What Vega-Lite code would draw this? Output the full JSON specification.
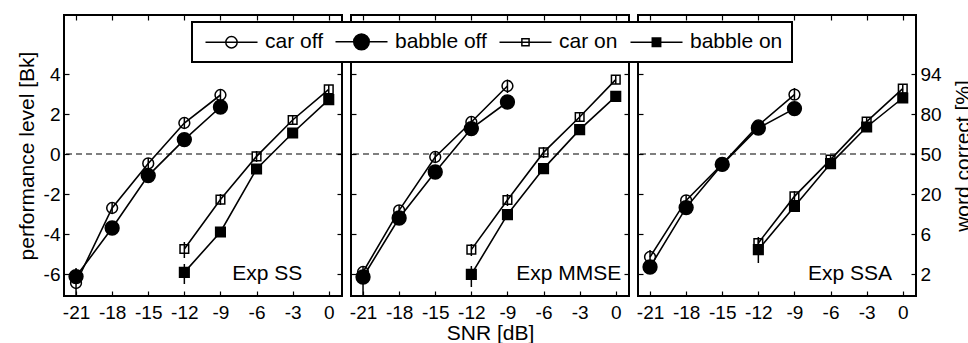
{
  "$schema": "https://vega.github.io/schema/vega-lite/v6.json",
  "background": "white",
  "padding": {"left": 15, "top": 13, "right": 0, "bottom": 0},
  "datasets": {
    "pts": [
      {"panel": "SS", "series": "car off", "snr": -21, "val": -6.45, "lo": -7.05, "hi": -5.7},
      {"panel": "SS", "series": "car off", "snr": -18, "val": -2.7, "lo": -3.0, "hi": -2.4},
      {"panel": "SS", "series": "car off", "snr": -15, "val": -0.47, "lo": -0.75, "hi": -0.2},
      {"panel": "SS", "series": "car off", "snr": -12, "val": 1.55, "lo": 1.3, "hi": 1.8},
      {"panel": "SS", "series": "car off", "snr": -9, "val": 2.95, "lo": 2.7, "hi": 3.2},
      {"panel": "SS", "series": "babble off", "snr": -21, "val": -6.13, "lo": -6.4, "hi": -5.85},
      {"panel": "SS", "series": "babble off", "snr": -18, "val": -3.7, "lo": -3.95, "hi": -3.45},
      {"panel": "SS", "series": "babble off", "snr": -15, "val": -1.08, "lo": -1.3, "hi": -0.85},
      {"panel": "SS", "series": "babble off", "snr": -12, "val": 0.72, "lo": 0.5, "hi": 0.95},
      {"panel": "SS", "series": "babble off", "snr": -9, "val": 2.35, "lo": 2.1, "hi": 2.6},
      {"panel": "SS", "series": "car on", "snr": -12, "val": -4.75, "lo": -5.2, "hi": -4.4},
      {"panel": "SS", "series": "car on", "snr": -9, "val": -2.28, "lo": -2.55, "hi": -2.0},
      {"panel": "SS", "series": "car on", "snr": -6, "val": -0.12, "lo": -0.4, "hi": 0.15},
      {"panel": "SS", "series": "car on", "snr": -3, "val": 1.7, "lo": 1.45, "hi": 1.95},
      {"panel": "SS", "series": "car on", "snr": 0, "val": 3.23, "lo": 3.0, "hi": 3.45},
      {"panel": "SS", "series": "babble on", "snr": -12, "val": -5.92, "lo": -6.5, "hi": -5.5},
      {"panel": "SS", "series": "babble on", "snr": -9, "val": -3.9, "lo": -4.15, "hi": -3.65},
      {"panel": "SS", "series": "babble on", "snr": -6, "val": -0.75, "lo": -1.0, "hi": -0.5},
      {"panel": "SS", "series": "babble on", "snr": -3, "val": 1.05, "lo": 0.8, "hi": 1.3},
      {"panel": "SS", "series": "babble on", "snr": 0, "val": 2.72, "lo": 2.5, "hi": 2.95},

      {"panel": "MMSE", "series": "car off", "snr": -21, "val": -5.9, "lo": -6.2, "hi": -5.65},
      {"panel": "MMSE", "series": "car off", "snr": -18, "val": -2.82, "lo": -3.1, "hi": -2.55},
      {"panel": "MMSE", "series": "car off", "snr": -15, "val": -0.15, "lo": -0.4, "hi": 0.1},
      {"panel": "MMSE", "series": "car off", "snr": -12, "val": 1.6, "lo": 1.35, "hi": 1.85},
      {"panel": "MMSE", "series": "car off", "snr": -9, "val": 3.4, "lo": 3.05, "hi": 3.72},
      {"panel": "MMSE", "series": "babble off", "snr": -21, "val": -6.15, "lo": -7.1, "hi": -5.8},
      {"panel": "MMSE", "series": "babble off", "snr": -18, "val": -3.2, "lo": -3.45, "hi": -2.95},
      {"panel": "MMSE", "series": "babble off", "snr": -15, "val": -0.9, "lo": -1.15, "hi": -0.65},
      {"panel": "MMSE", "series": "babble off", "snr": -12, "val": 1.27, "lo": 1.05, "hi": 1.5},
      {"panel": "MMSE", "series": "babble off", "snr": -9, "val": 2.6, "lo": 2.35, "hi": 2.85},
      {"panel": "MMSE", "series": "car on", "snr": -12, "val": -4.78, "lo": -5.1, "hi": -4.5},
      {"panel": "MMSE", "series": "car on", "snr": -9, "val": -2.3, "lo": -2.6, "hi": -2.0},
      {"panel": "MMSE", "series": "car on", "snr": -6, "val": 0.08, "lo": -0.2, "hi": 0.35},
      {"panel": "MMSE", "series": "car on", "snr": -3, "val": 1.85, "lo": 1.6, "hi": 2.1},
      {"panel": "MMSE", "series": "car on", "snr": 0, "val": 3.72, "lo": 3.5, "hi": 3.95},
      {"panel": "MMSE", "series": "babble on", "snr": -12, "val": -6.02, "lo": -6.65, "hi": -5.6},
      {"panel": "MMSE", "series": "babble on", "snr": -9, "val": -3.03, "lo": -3.3, "hi": -2.8},
      {"panel": "MMSE", "series": "babble on", "snr": -6, "val": -0.73, "lo": -1.0, "hi": -0.5},
      {"panel": "MMSE", "series": "babble on", "snr": -3, "val": 1.22, "lo": 1.0, "hi": 1.45},
      {"panel": "MMSE", "series": "babble on", "snr": 0, "val": 2.88, "lo": 2.65, "hi": 3.1},

      {"panel": "SSA", "series": "car off", "snr": -21, "val": -5.15, "lo": -5.6, "hi": -4.8},
      {"panel": "SSA", "series": "car off", "snr": -18, "val": -2.32, "lo": -2.6, "hi": -2.05},
      {"panel": "SSA", "series": "car off", "snr": -15, "val": -0.5, "lo": -0.75, "hi": -0.25},
      {"panel": "SSA", "series": "car off", "snr": -12, "val": 1.43, "lo": 1.2, "hi": 1.65},
      {"panel": "SSA", "series": "car off", "snr": -9, "val": 2.97, "lo": 2.7, "hi": 3.3},
      {"panel": "SSA", "series": "babble off", "snr": -21, "val": -5.65, "lo": -5.9, "hi": -5.4},
      {"panel": "SSA", "series": "babble off", "snr": -18, "val": -2.68, "lo": -2.95, "hi": -2.4},
      {"panel": "SSA", "series": "babble off", "snr": -15, "val": -0.52, "lo": -0.75, "hi": -0.3},
      {"panel": "SSA", "series": "babble off", "snr": -12, "val": 1.3, "lo": 1.05, "hi": 1.55},
      {"panel": "SSA", "series": "babble off", "snr": -9, "val": 2.27, "lo": 2.05, "hi": 2.5},
      {"panel": "SSA", "series": "car on", "snr": -12, "val": -4.45, "lo": -4.75, "hi": -4.15},
      {"panel": "SSA", "series": "car on", "snr": -9, "val": -2.12, "lo": -2.4, "hi": -1.85},
      {"panel": "SSA", "series": "car on", "snr": -6, "val": -0.28, "lo": -0.5, "hi": -0.05},
      {"panel": "SSA", "series": "car on", "snr": -3, "val": 1.62, "lo": 1.4, "hi": 1.85},
      {"panel": "SSA", "series": "car on", "snr": 0, "val": 3.27, "lo": 3.0, "hi": 3.5},
      {"panel": "SSA", "series": "babble on", "snr": -12, "val": -4.78, "lo": -5.45, "hi": -4.2},
      {"panel": "SSA", "series": "babble on", "snr": -9, "val": -2.62, "lo": -2.85, "hi": -2.4},
      {"panel": "SSA", "series": "babble on", "snr": -6, "val": -0.48, "lo": -0.7, "hi": -0.25},
      {"panel": "SSA", "series": "babble on", "snr": -3, "val": 1.35, "lo": 1.1, "hi": 1.6},
      {"panel": "SSA", "series": "babble on", "snr": 0, "val": 2.8, "lo": 2.55, "hi": 3.05}
    ],
    "labels": [
      {"panel": "SS", "text": "Exp SS", "x": -2.2, "y": -6},
      {"panel": "MMSE", "text": "Exp MMSE", "x": 0.45, "y": -6},
      {"panel": "SSA", "text": "Exp SSA", "x": -0.9, "y": -6}
    ],
    "ref": [{"ref": 0}]
  },
  "config": {
    "font": "Liberation Sans",
    "view": {"stroke": "black", "strokeWidth": 2},
    "legend": {"strokeWidth": 2},
    "axis": {
      "labelFont": "Liberation Sans",
      "labelFontSize": 19,
      "labelColor": "black",
      "labelExpr": "datum.value + ''",
      "titleFont": "Liberation Sans",
      "titleFontSize": 21,
      "titleFontWeight": "normal",
      "titleColor": "black",
      "tickColor": "black",
      "tickSize": -5,
      "tickWidth": 1.2,
      "domain": false,
      "grid": false
    }
  },
  "bounds": "flush",
  "spacing": 9,
  "resolve": {"scale": {"x": "independent", "y": "independent"}},
  "hconcat": [
    {
      "width": 278, "height": 281,
      "layer": [
        {
          "data": {"name": "ref"},
          "mark": {"type": "rule", "strokeDash": [6, 4], "color": "black", "strokeWidth": 1.2},
          "encoding": {"y": {"field": "ref", "type": "quantitative", "scale": {"domain": [-7.1, 6.95], "nice": false, "zero": false}, "axis": null}}
        },
        {
          "data": {"name": "pts"},
          "transform": [{"filter": "datum.panel == 'SS'"}],
          "mark": {"type": "line", "color": "black", "strokeWidth": 1.6},
          "encoding": {
            "x": {"field": "snr", "type": "quantitative", "scale": {"domain": [-22, 1.1], "nice": false, "zero": false}, "axis": {"orient": "bottom", "values": [-21, -18, -15, -12, -9, -6, -3, 0], "title": null, "labelPadding": 12}},
            "y": {"field": "val", "type": "quantitative", "scale": {"domain": [-7.1, 6.95], "nice": false, "zero": false}, "axis": {"orient": "left", "values": [-6, -4, -2, 0, 2, 4], "title": "performance level [Bk]", "labelPadding": 9, "titlePadding": 6}},
            "detail": {"field": "series"}
          }
        },
        {
          "data": {"name": "pts"},
          "transform": [{"filter": "datum.panel == 'SS'"}],
          "mark": {"type": "rule", "color": "black", "strokeWidth": 1.5},
          "encoding": {
            "x": {"field": "snr", "type": "quantitative", "axis": {"orient": "top", "values": [-21, -18, -15, -12, -9, -6, -3, 0], "labels": false, "title": null}},
            "y": {"field": "lo", "type": "quantitative", "axis": {"orient": "right", "values": [-6, -4, -2, 0, 2, 4], "labels": false, "title": null}},
            "y2": {"field": "hi"}
          }
        },
        {
          "data": {"name": "pts"},
          "transform": [{"filter": "datum.panel == 'SS'"}],
          "mark": {"type": "point", "filled": false, "stroke": "black", "strokeWidth": 1.5, "size": 144, "opacity": 1},
          "encoding": {
            "x": {"field": "snr", "type": "quantitative", "axis": null},
            "y": {"field": "val", "type": "quantitative", "axis": null},
            "shape": {"condition": [
                {"test": "datum.series == 'car off'", "value": "M-0.9,0A0.9,0.9 0 1,0 0.9,0A0.9,0.9 0 1,0 -0.9,0Z"},
                {"test": "datum.series == 'babble off'", "value": "M-1.15,0A1.15,1.15 0 1,0 1.15,0A1.15,1.15 0 1,0 -1.15,0Z"},
                {"test": "datum.series == 'car on'", "value": "M-0.72,-0.72H0.72V0.72H-0.72Z"}],
              "value": "M-0.8,-0.8H0.8V0.8H-0.8Z"},
            "fill": {"condition": {"test": "datum.series == 'babble off' || datum.series == 'babble on'", "value": "black"}, "value": "transparent"}
          }
        },
        {
          "data": {"name": "pts"},
          "transform": [{"filter": "datum.panel == 'SS'"}],
          "mark": {"type": "point", "filled": false, "stroke": "black", "strokeWidth": 1.5, "size": 144, "opacity": 0},
          "encoding": {
            "x": {"field": "snr", "type": "quantitative", "axis": null},
            "y": {"field": "val", "type": "quantitative", "axis": null},
            "shape": {"field": "series", "type": "nominal",
              "scale": {"domain": ["car off", "babble off", "car on", "babble on"],
                "range": [
                  "M-1,0H7.67M2.38,0A0.95,0.95 0 1,0 4.28,0A0.95,0.95 0 1,0 2.38,0Z",
                  "M-1,0H7.67M2.03,0A1.3,1.3 0 1,0 4.63,0A1.3,1.3 0 1,0 2.03,0ZM2.23,0A1.1,1.1 0 1,0 4.43,0A1.1,1.1 0 1,0 2.23,0ZM2.43,0A0.9,0.9 0 1,0 4.23,0A0.9,0.9 0 1,0 2.43,0ZM2.63,0A0.7,0.7 0 1,0 4.03,0A0.7,0.7 0 1,0 2.63,0ZM2.83,0A0.5,0.5 0 1,0 3.83,0A0.5,0.5 0 1,0 2.83,0ZM3.03,0A0.3,0.3 0 1,0 3.63,0A0.3,0.3 0 1,0 3.03,0ZM3.21,0A0.12,0.12 0 1,0 3.45,0A0.12,0.12 0 1,0 3.21,0Z",
                  "M-1,0H7.67M2.73,-0.6H3.93V0.6H2.73Z",
                  "M-1,0H7.67M2.63,-0.7H4.03V0.7H2.63ZM2.83,-0.5H3.83V0.5H2.83ZM3.03,-0.3H3.63V0.3H3.03ZM3.23,-0.1H3.43V0.1H3.23Z"
                ]},
              "legend": {
                "orient": "none", "legendX": 128, "legendY": 7, "direction": "horizontal", "columns": 4,
                "title": null, "labelFont": "Liberation Sans", "labelFontSize": 21, "labelColor": "black",
                "symbolSize": 144, "symbolStrokeWidth": 1.5, "symbolOpacity": 1, "symbolFillColor": "transparent",
                "labelOffset": 43, "columnPadding": 8, "padding": 9,
                "strokeColor": "black", "fillColor": "white"
              }
            }
          }
        },
        {
          "data": {"name": "labels"},
          "transform": [{"filter": "datum.panel == 'SS'"}],
          "mark": {"type": "text", "align": "right", "baseline": "middle", "fontSize": 21, "font": "Liberation Sans", "color": "black"},
          "encoding": {
            "x": {"field": "x", "type": "quantitative", "axis": null},
            "y": {"field": "y", "type": "quantitative", "axis": null},
            "text": {"field": "text"}
          }
        }
      ],
      "resolve": {"axis": {"x": "independent", "y": "independent"}}
    },
    {
      "width": 278, "height": 281,
      "layer": [
        {
          "data": {"name": "ref"},
          "mark": {"type": "rule", "strokeDash": [6, 4], "color": "black", "strokeWidth": 1.2},
          "encoding": {"y": {"field": "ref", "type": "quantitative", "scale": {"domain": [-7.1, 6.95], "nice": false, "zero": false}, "axis": null}}
        },
        {
          "data": {"name": "pts"},
          "transform": [{"filter": "datum.panel == 'MMSE'"}],
          "mark": {"type": "line", "color": "black", "strokeWidth": 1.6},
          "encoding": {
            "x": {"field": "snr", "type": "quantitative", "scale": {"domain": [-22, 1.1], "nice": false, "zero": false}, "axis": {"orient": "bottom", "values": [-21, -18, -15, -12, -9, -6, -3, 0], "title": "SNR [dB]", "labelPadding": 12, "titlePadding": 0}},
            "y": {"field": "val", "type": "quantitative", "scale": {"domain": [-7.1, 6.95], "nice": false, "zero": false}, "axis": {"orient": "left", "values": [-6, -4, -2, 0, 2, 4], "labels": false, "title": null}},
            "detail": {"field": "series"}
          }
        },
        {
          "data": {"name": "pts"},
          "transform": [{"filter": "datum.panel == 'MMSE'"}],
          "mark": {"type": "rule", "color": "black", "strokeWidth": 1.5},
          "encoding": {
            "x": {"field": "snr", "type": "quantitative", "axis": {"orient": "top", "values": [-21, -18, -15, -12, -9, -6, -3, 0], "labels": false, "title": null}},
            "y": {"field": "lo", "type": "quantitative", "axis": {"orient": "right", "values": [-6, -4, -2, 0, 2, 4], "labels": false, "title": null}},
            "y2": {"field": "hi"}
          }
        },
        {
          "data": {"name": "pts"},
          "transform": [{"filter": "datum.panel == 'MMSE'"}],
          "mark": {"type": "point", "filled": false, "stroke": "black", "strokeWidth": 1.5, "size": 144, "opacity": 1},
          "encoding": {
            "x": {"field": "snr", "type": "quantitative", "axis": null},
            "y": {"field": "val", "type": "quantitative", "axis": null},
            "shape": {"condition": [
                {"test": "datum.series == 'car off'", "value": "M-0.9,0A0.9,0.9 0 1,0 0.9,0A0.9,0.9 0 1,0 -0.9,0Z"},
                {"test": "datum.series == 'babble off'", "value": "M-1.15,0A1.15,1.15 0 1,0 1.15,0A1.15,1.15 0 1,0 -1.15,0Z"},
                {"test": "datum.series == 'car on'", "value": "M-0.72,-0.72H0.72V0.72H-0.72Z"}],
              "value": "M-0.8,-0.8H0.8V0.8H-0.8Z"},
            "fill": {"condition": {"test": "datum.series == 'babble off' || datum.series == 'babble on'", "value": "black"}, "value": "transparent"}
          }
        },
        {
          "data": {"name": "labels"},
          "transform": [{"filter": "datum.panel == 'MMSE'"}],
          "mark": {"type": "text", "align": "right", "baseline": "middle", "fontSize": 21, "font": "Liberation Sans", "color": "black"},
          "encoding": {
            "x": {"field": "x", "type": "quantitative", "axis": null},
            "y": {"field": "y", "type": "quantitative", "axis": null},
            "text": {"field": "text"}
          }
        }
      ],
      "resolve": {"axis": {"x": "independent", "y": "independent"}}
    },
    {
      "width": 278, "height": 281,
      "layer": [
        {
          "data": {"name": "ref"},
          "mark": {"type": "rule", "strokeDash": [6, 4], "color": "black", "strokeWidth": 1.2},
          "encoding": {"y": {"field": "ref", "type": "quantitative", "scale": {"domain": [-7.1, 6.95], "nice": false, "zero": false}, "axis": null}}
        },
        {
          "data": {"name": "pts"},
          "transform": [{"filter": "datum.panel == 'SSA'"}],
          "mark": {"type": "line", "color": "black", "strokeWidth": 1.6},
          "encoding": {
            "x": {"field": "snr", "type": "quantitative", "scale": {"domain": [-22, 1.1], "nice": false, "zero": false}, "axis": {"orient": "bottom", "values": [-21, -18, -15, -12, -9, -6, -3, 0], "title": null, "labelPadding": 12}},
            "y": {"field": "val", "type": "quantitative", "scale": {"domain": [-7.1, 6.95], "nice": false, "zero": false}, "axis": {"orient": "left", "values": [-6, -4, -2, 0, 2, 4], "labels": false, "title": null}},
            "detail": {"field": "series"}
          }
        },
        {
          "data": {"name": "pts"},
          "transform": [{"filter": "datum.panel == 'SSA'"}],
          "mark": {"type": "rule", "color": "black", "strokeWidth": 1.5},
          "encoding": {
            "x": {"field": "snr", "type": "quantitative", "axis": {"orient": "top", "values": [-21, -18, -15, -12, -9, -6, -3, 0], "labels": false, "title": null}},
            "y": {"field": "lo", "type": "quantitative", "axis": {"orient": "right", "values": [-6, -4, -2, 0, 2, 4], "labelPadding": 9, "title": "word correct [%]", "titleAngle": 270, "titleBaseline": "top", "titlePadding": 11,
              "labelExpr": "datum.value == 4 ? '94' : datum.value == 2 ? '80' : datum.value == 0 ? '50' : datum.value == -2 ? '20' : datum.value == -4 ? '6' : '2'"}},
            "y2": {"field": "hi"}
          }
        },
        {
          "data": {"name": "pts"},
          "transform": [{"filter": "datum.panel == 'SSA'"}],
          "mark": {"type": "point", "filled": false, "stroke": "black", "strokeWidth": 1.5, "size": 144, "opacity": 1},
          "encoding": {
            "x": {"field": "snr", "type": "quantitative", "axis": null},
            "y": {"field": "val", "type": "quantitative", "axis": null},
            "shape": {"condition": [
                {"test": "datum.series == 'car off'", "value": "M-0.9,0A0.9,0.9 0 1,0 0.9,0A0.9,0.9 0 1,0 -0.9,0Z"},
                {"test": "datum.series == 'babble off'", "value": "M-1.15,0A1.15,1.15 0 1,0 1.15,0A1.15,1.15 0 1,0 -1.15,0Z"},
                {"test": "datum.series == 'car on'", "value": "M-0.72,-0.72H0.72V0.72H-0.72Z"}],
              "value": "M-0.8,-0.8H0.8V0.8H-0.8Z"},
            "fill": {"condition": {"test": "datum.series == 'babble off' || datum.series == 'babble on'", "value": "black"}, "value": "transparent"}
          }
        },
        {
          "data": {"name": "labels"},
          "transform": [{"filter": "datum.panel == 'SSA'"}],
          "mark": {"type": "text", "align": "right", "baseline": "middle", "fontSize": 21, "font": "Liberation Sans", "color": "black"},
          "encoding": {
            "x": {"field": "x", "type": "quantitative", "axis": null},
            "y": {"field": "y", "type": "quantitative", "axis": null},
            "text": {"field": "text"}
          }
        }
      ],
      "resolve": {"axis": {"x": "independent", "y": "independent"}}
    }
  ]
}
